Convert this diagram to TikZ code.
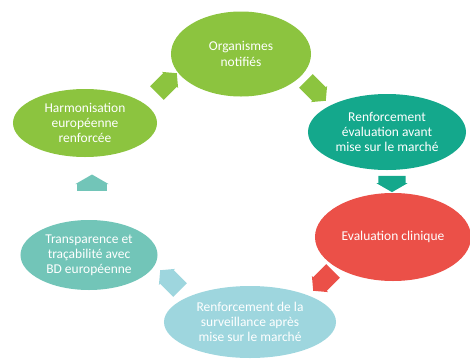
\documentclass[tikz,border=0pt]{standalone}
\usepackage{fontspec}
\setmainfont{Carlito}
\usetikzlibrary{shapes.geometric, shapes.arrows}

\definecolor{vert}{HTML}{8CC43F}
\definecolor{sarcelle}{HTML}{14A88C}
\definecolor{rouge}{HTML}{EB5048}
\definecolor{bleuclair}{HTML}{9ED6DE}
\definecolor{turquoise}{HTML}{72C5B8}

\begin{document}
\begin{tikzpicture}[x=0.03cm, y=-0.03cm,
    etape/.style={ellipse, inner sep=0pt, text=white, align=center,
        font=\fontsize{11.5}{13}\selectfont},
    fleche/.style={single arrow, single arrow head extend=1.5pt,
        single arrow tip angle=100, inner xsep=0pt, inner ysep=8pt,
        minimum height=24pt}]
    \useasboundingbox (0,0) rectangle (470,359);

    % les six etapes du cycle
    \node[etape, fill=vert, minimum width=4.2cm, minimum height=2.55cm]
        (organismes) at (241,54) {Organismes\\notifiés};
    \node[etape, fill=sarcelle, minimum width=4.74cm, minimum height=2.28cm]
        (avant) at (387,132) {Renforcement\\évaluation avant\\mise sur le marché};
    \node[etape, fill=rouge, minimum width=4.68cm, minimum height=2.64cm]
        (clinique) at (393,237) {Evaluation clinique};
    \node[etape, fill=bleuclair, minimum width=5.16cm, minimum height=2.16cm]
        (apres) at (250,322) {Renforcement de la\\surveillance après\\mise sur le marché};
    \node[etape, fill=turquoise, minimum width=4.11cm, minimum height=2.1cm]
        (transparence) at (89,255) {Transparence et\\traçabilité avec\\BD européenne};
    \node[etape, fill=vert, minimum width=4.32cm, minimum height=2.04cm]
        (harmonisation) at (85,123) {Harmonisation\\européenne\\renforcée};

    % fleches entre les etapes
    \node[fleche, fill=vert, rotate=45] (f1) at (164,86) {};
    \node[fleche, fill=vert, rotate=-45] (f2) at (313,88) {};
    \node[fleche, fill=sarcelle, rotate=-90, inner ysep=11.5pt,
        minimum height=14pt, single arrow tip angle=120] (f3) at (392,180) {};
    \node[fleche, fill=rouge, rotate=-135] (f4) at (326,278) {};
    \node[fleche, fill=bleuclair, rotate=135] (f5) at (173,283) {};
    \node[fleche, fill=turquoise, rotate=90, inner ysep=12.5pt,
        minimum height=14pt, single arrow tip angle=120] (f6) at (92,187) {};
\end{tikzpicture}
\end{document}
